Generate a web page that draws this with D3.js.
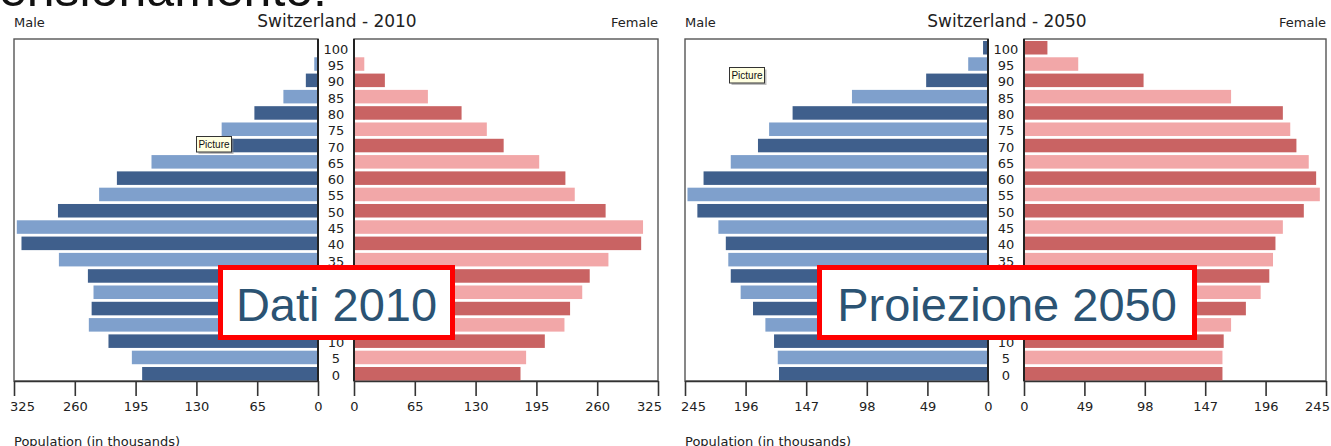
<!DOCTYPE html>
<html><head><meta charset="utf-8">
<script src="https://cdn.jsdelivr.net/npm/d3@7"></script>
<style>
html,body{margin:0;padding:0;background:#fff;overflow:hidden}
svg{display:block}
</style></head>
<body>
<svg id="c" width="1331" height="446"></svg>
<script>
// ---- data ----
const ages = [0,5,10,15,20,25,30,35,40,45,50,55,60,65,70,75,80,85,90,95,100];
const male2010   = [188,199,224,245,242,240,246,277,317,322,278,234,215,178,115,103,68,37,13,4,1];
const female2010 = [178,184,204,225,231,244,252,272,307,309,269,236,226,198,160,142,115,79,33,11,1];
const male2050   = [169,170,173,180,190,200,208,210,212,218,235,243,230,208,186,177,158,110,50,16,4];
const female2050 = [161,161,162,168,180,192,199,202,204,210,227,240,237,231,221,216,210,168,97,44,19];
const ticks2010 = [0,65,130,195,260,325];
const ticks2050 = [0,49,98,147,196,245];
const titles = ["Switzerland - 2010","Switzerland - 2050"];
const overlayLabels = ["Dati 2010","Proiezione 2050"];
const sideLabels = ["Male","Female"];
const axisTitle = "Population (in thousands)";
const headerText = "ensionamento:";
const tooltipText = "Picture";

const svg = d3.select("#c");
const FONT = "DejaVu Sans, Verdana, sans-serif";
const colors = {mDark:"#3f5f8c", mLight:"#7fa0cc", fDark:"#c96363", fLight:"#f2a7a8"};

// header text (clipped at top)
svg.append("text").attr("x",-1).attr("y",6)
  .attr("font-family","Liberation Sans, Arial, sans-serif").attr("font-size",50)
  .attr("fill","#111").text(headerText);

function pyramid(cfg){
  const g = svg.append("g");
  const top = 39, bottom = 381;
  const xM = d3.scaleLinear().domain([0,cfg.max]).range([cfg.mZero,cfg.mLeft]);
  const xF = d3.scaleLinear().domain([0,cfg.max]).range([cfg.fZero,cfg.fRight]);
  const y = d3.scaleBand().domain(ages).range([bottom+0.5,top+1]).paddingInner(0.17).paddingOuter(0.06);

  // frames
  g.append("rect").attr("x",cfg.mLeft).attr("y",top).attr("width",cfg.mZero-cfg.mLeft).attr("height",bottom-top)
    .attr("fill","none").attr("stroke","#555").attr("stroke-width",1.4);
  g.append("rect").attr("x",cfg.fZero).attr("y",top).attr("width",cfg.fRight-cfg.fZero).attr("height",bottom-top)
    .attr("fill","none").attr("stroke","#555").attr("stroke-width",1.4);

  // bars
  g.selectAll(".m").data(ages).join("rect")
    .attr("x",(d,i)=>xM(cfg.male[i])).attr("y",d=>y(d))
    .attr("width",(d,i)=>xM(0)-xM(cfg.male[i])).attr("height",y.bandwidth())
    .attr("fill",(d,i)=> i%2===0 ? colors.mDark : colors.mLight);
  g.selectAll(".f").data(ages).join("rect")
    .attr("x",xF(0)).attr("y",d=>y(d))
    .attr("width",(d,i)=>xF(cfg.female[i])-xF(0)).attr("height",y.bandwidth())
    .attr("fill",(d,i)=> i%2===0 ? colors.fDark : colors.fLight);

  // zero lines
  [cfg.mZero,cfg.fZero].forEach(x=>{
    g.append("line").attr("x1",x).attr("x2",x).attr("y1",top).attr("y2",bottom)
      .attr("stroke","#222").attr("stroke-width",2);
  });

  // axes
  const styleAxis = (sel, shift)=>{
    sel.select(".domain").attr("stroke","#333").attr("stroke-width",1.6);
    sel.selectAll(".tick line").attr("stroke","#333").attr("stroke-width",1.6);
    sel.selectAll(".tick text").attr("font-family",FONT).attr("font-size",13).attr("fill","#222");
    sel.selectAll(".tick text").filter(d=>d===cfg.max).attr("dx",shift);
  };
  g.append("g").attr("transform",`translate(0,${bottom})`)
    .call(d3.axisBottom(xM).tickValues(cfg.ticks).tickSize(15).tickSizeOuter(0).tickPadding(6))
    .call(s=>styleAxis(s,8));
  g.append("g").attr("transform",`translate(0,${bottom})`)
    .call(d3.axisBottom(xF).tickValues(cfg.ticks).tickSize(15).tickSizeOuter(0).tickPadding(6))
    .call(s=>styleAxis(s,-9));

  // age labels
  const cx = (cfg.mZero+cfg.fZero)/2;
  g.selectAll(".age").data(ages).join("text")
    .attr("x",cx).attr("y",d=>y(d)+y.bandwidth()/2+1.5)
    .attr("text-anchor","middle").attr("dominant-baseline","central")
    .attr("font-family",FONT).attr("font-size",13).attr("fill","#222")
    .text(d=>d);

  // titles
  g.append("text").attr("x",cfg.titleX).attr("y",27).attr("text-anchor","middle")
    .attr("font-family",FONT).attr("font-size",17).attr("fill","#222").text(cfg.title);
  g.append("text").attr("x",cfg.mLeft).attr("y",27)
    .attr("font-family",FONT).attr("font-size",13).attr("fill","#222").text(sideLabels[0]);
  g.append("text").attr("x",cfg.fRight).attr("y",27).attr("text-anchor","end")
    .attr("font-family",FONT).attr("font-size",13).attr("fill","#222").text(sideLabels[1]);
  g.append("text").attr("x",cfg.mLeft).attr("y",446)
    .attr("font-family",FONT).attr("font-size",13).attr("fill","#222").text(axisTitle);

  // tooltip "Picture"
  const t = g.append("g").attr("transform",`translate(${cfg.tipX},${cfg.tipY})`);
  t.append("rect").attr("x",2.5).attr("y",2.5).attr("width",35).attr("height",15.5).attr("fill","#888").attr("opacity",0.55);
  t.append("rect").attr("x",0.5).attr("y",0.5).attr("width",35).attr("height",15.5).attr("fill","#ffffe1").attr("stroke","#333").attr("stroke-width",1);
  t.append("text").attr("x",18).attr("y",12).attr("text-anchor","middle")
    .attr("font-family","Liberation Sans, Arial, sans-serif").attr("font-size",10).attr("fill","#111").text(tooltipText);

  // overlay box
  const o = g.append("g");
  o.append("rect").attr("x",cfg.boxX0+2.5).attr("y",267.5).attr("width",cfg.boxX1-cfg.boxX0-5).attr("height",70)
    .attr("fill","#fff").attr("stroke","#ff0000").attr("stroke-width",5);
  o.append("text").attr("x",(cfg.boxX0+cfg.boxX1)/2).attr("y",321).attr("text-anchor","middle")
    .attr("font-family","Liberation Sans, Arial, sans-serif").attr("font-size",47).attr("fill","#2b5373")
    .text(cfg.overlay);
}

pyramid({max:325, ticks:ticks2010, male:male2010, female:female2010,
  mLeft:14, mZero:318, fZero:354, fRight:658, titleX:337, title:titles[0],
  tipX:196, tipY:136, boxX0:218, boxX1:455, overlay:overlayLabels[0]});
pyramid({max:245, ticks:ticks2050, male:male2050, female:female2050,
  mLeft:685, mZero:988, fZero:1024, fRight:1326, titleX:1007, title:titles[1],
  tipX:729, tipY:67, boxX0:817, boxX1:1197, overlay:overlayLabels[1]});
</script>
</body></html>
